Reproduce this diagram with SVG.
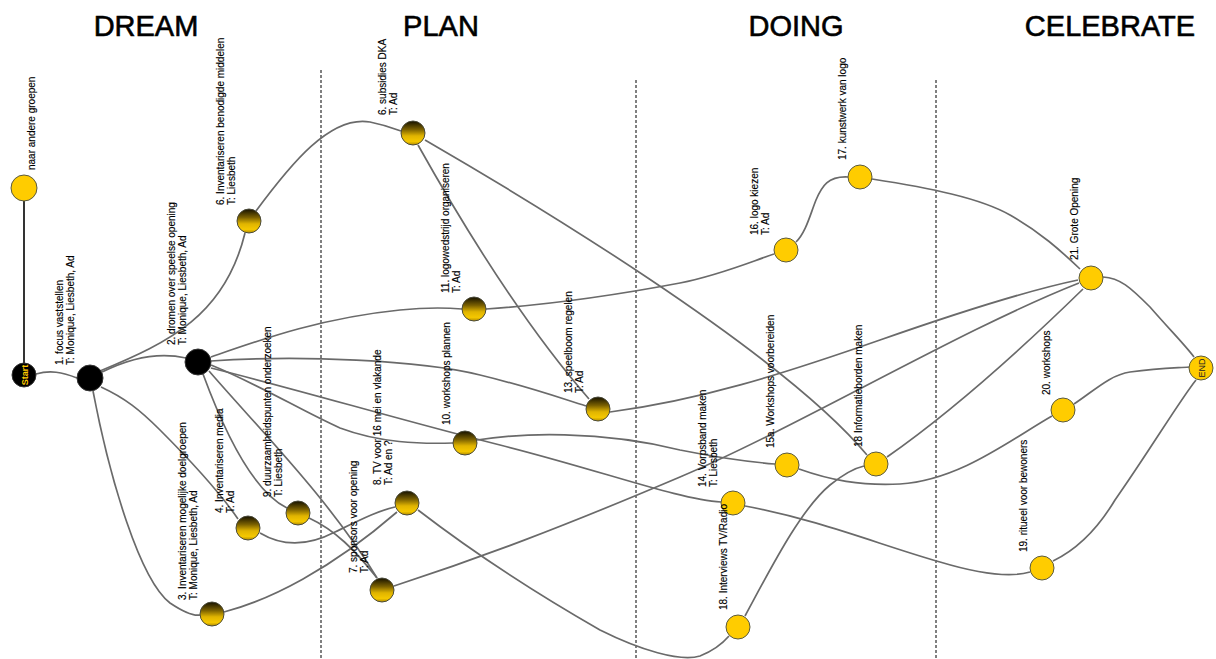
<svg xmlns="http://www.w3.org/2000/svg" width="1216" height="659" viewBox="0 0 1216 659">
<defs>
<linearGradient id="gold" x1="0" y1="0" x2="0" y2="1">
<stop offset="0" stop-color="#141000"/>
<stop offset="0.35" stop-color="#7a6000"/>
<stop offset="0.62" stop-color="#e0b400"/>
<stop offset="0.85" stop-color="#f5c800"/>
<stop offset="1" stop-color="#b08a00"/>
</linearGradient>
<style>
.hd{font-family:"Liberation Sans",Arial,sans-serif;font-size:29px;fill:#000;stroke:#000;stroke-width:0.6}
.lb{font-family:"Liberation Sans",Arial,sans-serif;font-size:10px;fill:#000;stroke:#000;stroke-width:0.15}
.sep{stroke:#000;stroke-width:1;stroke-dasharray:3,2;fill:none}
.e{fill:none;stroke:#6a6a6a;stroke-width:1.7}
.y{fill:#ffcc00;stroke:#5a5a40;stroke-width:1}
.g{fill:url(#gold);stroke:#4a4a3a;stroke-width:1}
.b{fill:#000;stroke:#333;stroke-width:1}
</style>
</defs>
<rect width="1216" height="659" fill="#fff"/>
<g id="headers">
<text class="hd" x="146" y="36" text-anchor="middle">DREAM</text>
<text class="hd" x="441" y="36" text-anchor="middle">PLAN</text>
<text class="hd" x="796" y="36" text-anchor="middle">DOING</text>
<text class="hd" x="1110" y="36" text-anchor="middle">CELEBRATE</text>
</g>
<g id="separators">
<line class="sep" x1="321" y1="70" x2="321" y2="659"/>
<line class="sep" x1="636" y1="80" x2="636" y2="659"/>
<line class="sep" x1="936" y1="80" x2="936" y2="659"/>
</g>
<g id="connectors">
<path d="M24,201 L24,363" fill="none" stroke="#000" stroke-width="1.6"/>
<path class="e" d="M36,374 C50,370 62,372 77,378"/>
<path class="e" d="M102,372 C130,358 160,352 186,358"/>
<path class="e" d="M100,371 C170,342 225,315 245,233"/>
<path class="e" d="M256,211 C290,165 330,115 370,122 C385,125 393,128 401,131"/>
<path class="e" d="M418,145 C460,220 520,320 589,399"/>
<path class="e" d="M425,140 C520,195 780,350 867,455"/>
<path class="e" d="M93,391 C110,480 140,580 170,603 C185,613 195,616 200,615"/>
<path class="e" d="M101,387 C125,398 140,410 160,430 C200,470 225,500 238,519"/>
<path class="e" d="M260,533 C285,548 310,545 335,532 C360,520 380,510 395,507"/>
<path class="e" d="M224,612 C270,600 330,570 397,512"/>
<path class="e" d="M309,518 C335,530 355,550 377,578"/>
<path class="e" d="M203,374 C220,420 250,490 287,508"/>
<path class="e" d="M209,371 C260,430 330,500 377,578"/>
<path class="e" d="M211,365 C260,385 300,410 340,428 C380,443 420,444 453,443"/>
<path class="e" d="M211,361 C300,355 420,360 480,375 C530,387 560,398 586,406"/>
<path class="e" d="M211,357 C260,340 320,318 400,310 C430,307 450,308 462,309"/>
<path class="e" d="M211,368 C300,390 400,420 500,445 C600,470 680,500 721,502"/>
<path class="e" d="M745,506 C820,520 880,545 940,562 C980,574 1010,578 1030,572"/>
<path class="e" d="M477,440 C520,433 600,430 680,450 C720,458 750,462 775,464"/>
<path class="e" d="M799,469 C830,480 860,486 900,484 C960,480 1010,440 1052,416"/>
<path class="e" d="M745,616 C770,570 800,510 830,485 C845,473 855,468 864,466"/>
<path class="e" d="M887,457 C940,420 1000,370 1083,289"/>
<path class="e" d="M610,412 C700,400 780,375 880,340 C960,312 1030,290 1078,280"/>
<path class="e" d="M394,586 C480,558 560,528 680,477 C800,426 960,330 1079,283"/>
<path class="e" d="M486,309 C530,306 590,300 680,283 C720,275 750,262 774,254"/>
<path class="e" d="M796,242 C806,232 810,215 816,200 C822,186 828,176 848,177"/>
<path class="e" d="M872,179 C930,188 980,198 1010,215 C1040,232 1060,250 1080,269"/>
<path class="e" d="M1103,277 C1120,278 1130,287 1150,307 C1170,330 1185,345 1194,357"/>
<path class="e" d="M1074,404 C1095,390 1110,375 1130,372 C1160,368 1175,368 1189,367"/>
<path class="e" d="M1053,561 C1080,548 1100,525 1115,500 C1150,450 1180,400 1196,380"/>
<path class="e" d="M418,510 C470,550 530,590 600,630 C640,650 680,662 700,656 C715,650 723,643 729,636"/>
</g>
<g id="n-naar"><circle class="y" cx="24" cy="188" r="13"/><text class="lb" transform="translate(35,170) rotate(-90)">naar andere groepen</text></g>
<g id="n-start"><circle class="b" cx="24" cy="375" r="12"/><text transform="translate(27.5,375) rotate(-90)" text-anchor="middle" font-family="Liberation Sans,Arial,sans-serif" font-size="9" font-weight="bold" fill="#ffcc00">Start</text></g>
<g id="n1"><circle class="b" cx="90" cy="378" r="13"/><text class="lb" transform="translate(63,365) rotate(-90)">1. focus vaststellen<tspan x="0" dy="11">T: Monique, Liesbeth, Ad</tspan></text></g>
<g id="n2"><circle class="b" cx="198" cy="362" r="13"/><text class="lb" transform="translate(175,345) rotate(-90)">2. dromen over speelse opening<tspan x="0" dy="11">T: Monique, Liesbeth, Ad</tspan></text></g>
<g id="n3"><circle class="g" cx="212" cy="614" r="12"/><text class="lb" transform="translate(186,600) rotate(-90)">3. Inventariseren mogelijke doelgroepen<tspan x="0" dy="11">T: Monique, Liesbeth, Ad</tspan></text></g>
<g id="n4"><circle class="g" cx="248" cy="528" r="12"/><text class="lb" transform="translate(223,513) rotate(-90)">4. Inventariseren media<tspan x="0" dy="11">T: Ad</tspan></text></g>
<g id="n5"><circle class="g" cx="249" cy="221" r="12"/><text class="lb" transform="translate(224,205) rotate(-90)">6. Inventariseren benodigde middelen<tspan x="0" dy="11">T: Liesbeth</tspan></text></g>
<g id="n6"><circle class="g" cx="413" cy="133" r="12"/><text class="lb" transform="translate(386,115) rotate(-90)">6. subsidies DKA<tspan x="0" dy="11">T: Ad</tspan></text></g>
<g id="n7"><circle class="g" cx="382" cy="590" r="12"/><text class="lb" transform="translate(357,573) rotate(-90)">7. sponsors voor opening<tspan x="0" dy="11">T: Ad</tspan></text></g>
<g id="n8"><circle class="g" cx="407" cy="503" r="12"/><text class="lb" transform="translate(381,485) rotate(-90)">8. TV voor 16 mei en vlakande<tspan x="0" dy="11">T: Ad en ?</tspan></text></g>
<g id="n9"><circle class="g" cx="298" cy="513" r="12"/><text class="lb" transform="translate(271,497) rotate(-90)">9. duurzaamheidspunten onderzoeken<tspan x="0" dy="11">T: Liesbeth</tspan></text></g>
<g id="n10"><circle class="g" cx="465" cy="443" r="12"/><text class="lb" transform="translate(450,425) rotate(-90)">10. workshops plannen</text></g>
<g id="n11"><circle class="g" cx="474" cy="309" r="12"/><text class="lb" transform="translate(449,293) rotate(-90)">11. logowedstrijd organiseren<tspan x="0" dy="11">T: Ad</tspan></text></g>
<g id="n13"><circle class="g" cx="598" cy="409" r="12"/><text class="lb" transform="translate(572,393) rotate(-90)">13. speelboom regelen<tspan x="0" dy="11">T: Ad</tspan></text></g>
<g id="n14"><circle class="y" cx="733" cy="503" r="12"/><text class="lb" transform="translate(706,487) rotate(-90)">14. Vorpsband maken<tspan x="0" dy="11">T: Liesbeth</tspan></text></g>
<g id="n15a"><circle class="y" cx="787" cy="465" r="12"/><text class="lb" transform="translate(774,448) rotate(-90)">15a. Workshops voorbereiden</text></g>
<g id="n16"><circle class="y" cx="786" cy="250" r="12"/><text class="lb" transform="translate(758,235) rotate(-90)">16. logo kiezen<tspan x="0" dy="11">T: Ad</tspan></text></g>
<g id="n17"><circle class="y" cx="860" cy="177" r="12"/><text class="lb" transform="translate(846,160) rotate(-90)">17. kunstwerk van logo</text></g>
<g id="n18"><circle class="y" cx="876" cy="464" r="12"/><text class="lb" transform="translate(862,447) rotate(-90)">18 Informatieborden maken</text></g>
<g id="n18b"><circle class="y" cx="738" cy="627" r="12"/><text class="lb" transform="translate(727,610) rotate(-90)">18. Interviews TV/Radio</text></g>
<g id="n19"><circle class="y" cx="1042" cy="568" r="12"/><text class="lb" transform="translate(1027,552) rotate(-90)">19. ritueel voor bewoners</text></g>
<g id="n20"><circle class="y" cx="1063" cy="410" r="12"/><text class="lb" transform="translate(1050,395) rotate(-90)">20. workshops</text></g>
<g id="n21"><circle class="y" cx="1091" cy="278" r="12"/><text class="lb" transform="translate(1078,260) rotate(-90)">21. Grote Opening</text></g>
<g id="n-end"><circle class="y" cx="1201" cy="368" r="12"/><text transform="translate(1204.5,368) rotate(-90)" text-anchor="middle" font-family="Liberation Sans,Arial,sans-serif" font-size="9" fill="#222">END</text></g>
</svg>
